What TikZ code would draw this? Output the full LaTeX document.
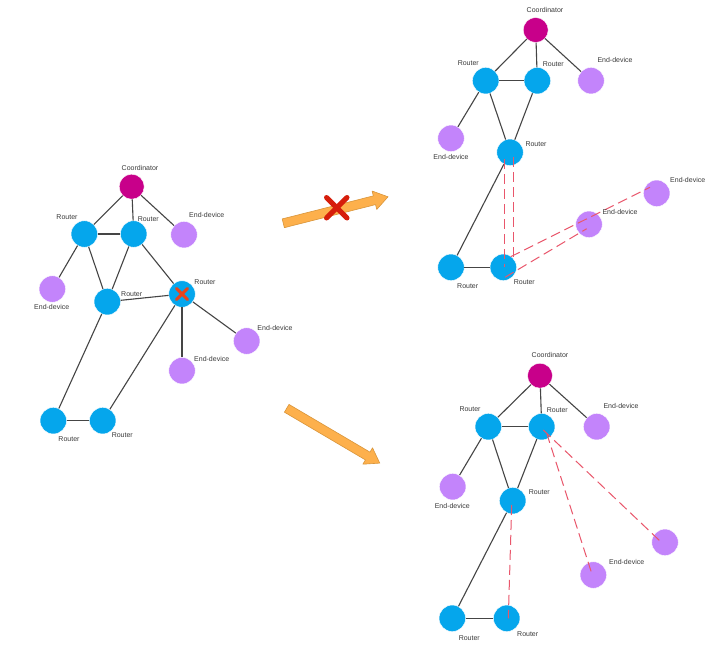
\documentclass[tikz,border=0pt]{standalone}
\usepackage{fontspec}
\setmainfont{Liberation Sans}
\usetikzlibrary{calc}
\definecolor{routerblue}{HTML}{05A6EC}
\definecolor{coordmag}{HTML}{C8008A}
\definecolor{endpurple}{HTML}{C384FB}
\definecolor{linkgray}{HTML}{454545}
\definecolor{wirered}{HTML}{E9566B}
\definecolor{arrowfill}{HTML}{FDB04C}
\definecolor{arrowedge}{HTML}{D9953A}
\definecolor{crossred}{HTML}{D61E0B}
\definecolor{crossorange}{HTML}{E8441C}
\definecolor{labelgray}{HTML}{3A3A3A}
\tikzset{
  dev/.style={circle, inner sep=0pt, minimum size=26.5pt, draw=white, line width=0.4pt},
  router/.style={dev, fill=routerblue},
  coordin/.style={dev, fill=coordmag, minimum size=25pt},
  enddev/.style={dev, fill=endpurple},
  lbl/.style={font=\fontsize{7}{8}\selectfont, text=labelgray, inner sep=0pt},
  link/.style={draw=linkgray, line width=1.1pt},
  wireless/.style={draw=wirered, line width=1pt, dash pattern=on 10pt off 5pt},
  bigarrow/.style={fill=arrowfill, draw=arrowedge, line width=0.6pt, line join=round},
  crossmark/.style={line width=5pt, line cap=round, draw=crossred}
}
\begin{document}
\begin{tikzpicture}[x=1pt,y=-1pt]
\useasboundingbox (0,0) rectangle (711,663);
\fill[white] (0,0) rectangle (711,663);

% ---------------- left network ----------------
\node[coordin] (L-co) at (131.7,186.7) {};
\node[router] (L-ra) at (84.3,234) {};
\node[router] (L-rb) at (133.7,234) {};
\node[enddev] (L-et) at (184,234.7) {};
\node[enddev] (L-el) at (52.3,289) {};
\node[router] (L-rc) at (107.3,301.7) {};
\node[router] (L-rx) at (182,294) {};
\node[enddev] (L-er) at (246.7,341) {};
\node[enddev] (L-eb) at (182,370.7) {};
\node[router] (L-r1) at (53.3,420.7) {};
\node[router] (L-r2) at (102.7,420.7) {};
\foreach \a/\b in {co/ra,co/rb,co/et,ra/rb,ra/el,ra/rc,rb/rc,rb/rx,rc/rx,rx/er,rx/eb,rx/r2,rc/r1,r1/r2}
  \draw[link] (L-\a) -- (L-\b);
\draw[line width=3pt, line cap=round, draw=crossorange] ($(L-rx)+(-5.5,-5.5)$) -- ($(L-rx)+(5.5,5.5)$);
\draw[line width=3pt, line cap=round, draw=crossorange] ($(L-rx)+(-5.5,5.5)$) -- ($(L-rx)+(5.5,-5.5)$);
\node[lbl] (L-co-t) at (140,168) {Coordinator};
\node[lbl] (L-ra-t) at (67,217.5) {Router};
\node[lbl] (L-rb-t) at (148.3,219.3) {Router};
\node[lbl] (L-et-t) at (206.7,215) {End-device};
\node[lbl] (L-el-t) at (51.7,306.7) {End-device};
\node[lbl] (L-rc-t) at (131.7,294.3) {Router};
\node[lbl] (L-rx-t) at (205,281.7) {Router};
\node[lbl] (L-er-t) at (275,328) {End-device};
\node[lbl] (L-eb-t) at (211.7,358.7) {End-device};
\node[lbl] (L-r1-t) at (69,439.3) {Router};
\node[lbl] (L-r2-t) at (122.3,435.3) {Router};

% ---------------- arrows ----------------
\begin{scope}[shift={(283.3,223.3)}, rotate=14.2]
  \draw[bigarrow] (0,-4.5) -- (94,-4.5) -- (94,-9.5) -- (108,0) -- (94,9.5) -- (94,4.5) -- (0,4.5) -- cycle;
\end{scope}
\draw[crossmark] (326.5,197.5) -- (347,218);
\draw[crossmark] (326.5,218) -- (347,197.5);
\begin{scope}[shift={(286.7,408.3)}, rotate=-30.5]
  \draw[bigarrow] (0,-4.5) -- (94,-4.5) -- (94,-9.5) -- (108,0) -- (94,9.5) -- (94,4.5) -- (0,4.5) -- cycle;
\end{scope}

% ---------------- top right network ----------------
\node[coordin] (T-co) at (535.7,30) {};
\node[router] (T-ra) at (485.7,80.7) {};
\node[router] (T-rb) at (537.3,80.7) {};
\node[enddev] (T-et) at (591,80.7) {};
\node[enddev] (T-el) at (451,138.3) {};
\node[router] (T-rc) at (510,152.3) {};
\node[enddev] (T-ef) at (656.7,193.3) {};
\node[enddev] (T-em) at (589,224.3) {};
\node[router] (T-r1) at (451,267.3) {};
\node[router] (T-r2) at (503.3,267.3) {};
\foreach \a/\b in {co/ra,co/rb,co/et,ra/rb,ra/el,ra/rc,rb/rc,rc/r1,r1/r2}
  \draw[link] (T-\a) -- (T-\b);
\coordinate (T-d1a) at ($(T-rc)+(-6,6.7)$);
\coordinate (T-d1b) at ($(T-r2)+(0.7,0)$);
\coordinate (T-d2a) at ($(T-rc)+(3.3,4.7)$);
\coordinate (T-d2b) at ($(T-r2)+(10,-9.3)$);
\coordinate (T-d3a) at ($(T-r2)+(7.4,-10.6)$);
\coordinate (T-d3b) at ($(T-ef)+(-6.7,-6)$);
\coordinate (T-d4a) at ($(T-r2)+(1.7,10)$);
\coordinate (T-d4b) at ($(T-em)+(-2.3,4.4)$);
\draw[wireless] (T-d1a) -- (T-d1b);
\draw[wireless] (T-d2a) -- (T-d2b);
\draw[wireless] (T-d3a) -- (T-d3b);
\draw[wireless] (T-d4a) -- (T-d4b);
\node[lbl] (T-co-t) at (545,10) {Coordinator};
\node[lbl] (T-ra-t) at (468.3,62.7) {Router};
\node[lbl] (T-rb-t) at (553.3,64) {Router};
\node[lbl] (T-et-t) at (615,60) {End-device};
\node[lbl] (T-el-t) at (451,156.7) {End-device};
\node[lbl] (T-rc-t) at (536,144) {Router};
\node[lbl] (T-ef-t) at (687.7,180) {End-device};
\node[lbl] (T-em-t) at (620,211.7) {End-device};
\node[lbl] (T-r1-t) at (467.7,286) {Router};
\node[lbl] (T-r2-t) at (524.3,281.7) {Router};

% ---------------- bottom right network ----------------
\node[coordin] (B-co) at (540,375.7) {};
\node[router] (B-ra) at (488.3,426.7) {};
\node[router] (B-rb) at (541.7,426.7) {};
\node[enddev] (B-et) at (596.7,426.7) {};
\node[enddev] (B-el) at (452.7,486.7) {};
\node[router] (B-rc) at (512.7,500.7) {};
\node[enddev] (B-er) at (665,542.3) {};
\node[enddev] (B-em) at (593.3,575) {};
\node[router] (B-r1) at (452.3,618.3) {};
\node[router] (B-r2) at (506.7,618.3) {};
\foreach \a/\b in {co/ra,co/rb,co/et,ra/rb,ra/el,ra/rc,rb/rc,rc/r1,r1/r2}
  \draw[link] (B-\a) -- (B-\b);
\coordinate (B-d1a) at ($(B-rb)+(1.6,3.3)$);
\coordinate (B-d1b) at ($(B-er)+(-4.3,-0.6)$);
\coordinate (B-d2a) at ($(B-rb)+(5,6.6)$);
\coordinate (B-d2b) at ($(B-em)+(-1.6,-1.7)$);
\coordinate (B-d3a) at ($(B-rc)+(-1,4.3)$);
\coordinate (B-d3b) at ($(B-r2)+(1.6,0)$);
\draw[wireless] (B-d1a) -- (B-d1b);
\draw[wireless] (B-d2a) -- (B-d2b);
\draw[wireless] (B-d3a) -- (B-d3b);
\node[lbl] (B-co-t) at (550,355) {Coordinator};
\node[lbl] (B-ra-t) at (470,409.3) {Router};
\node[lbl] (B-rb-t) at (557.3,410) {Router};
\node[lbl] (B-et-t) at (621,405.7) {End-device};
\node[lbl] (B-el-t) at (452.3,505.7) {End-device};
\node[lbl] (B-rc-t) at (539.3,492) {Router};
\node[lbl] (B-em-t) at (626.7,561.7) {End-device};
\node[lbl] (B-r1-t) at (469.3,637.7) {Router};
\node[lbl] (B-r2-t) at (527.7,633.7) {Router};
\end{tikzpicture}
\end{document}
